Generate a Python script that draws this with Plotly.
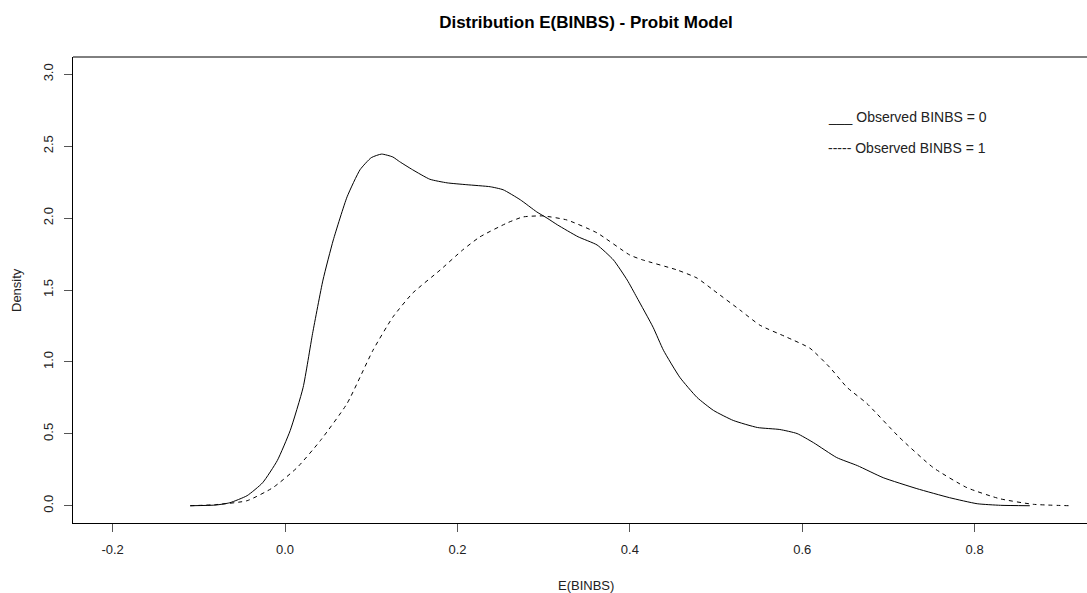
import plotly.graph_objects as go

# Density curves
x_obs0 = [-0.11, -0.08, -0.064, -0.044, -0.026, -0.009, 0.006, 0.021, 0.032, 0.044, 0.056, 0.072,
          0.087, 0.100, 0.112, 0.125, 0.133, 0.148, 0.168, 0.188, 0.211, 0.238, 0.253, 0.273,
          0.292, 0.304, 0.316, 0.340, 0.362, 0.381, 0.397, 0.408, 0.427, 0.439, 0.458, 0.478,
          0.497, 0.520, 0.548, 0.574, 0.594, 0.613, 0.640, 0.664, 0.694, 0.733, 0.771, 0.803,
          0.830, 0.864]
y_obs0 = [0, 0.005, 0.021, 0.07, 0.16, 0.314, 0.523, 0.823, 1.199, 1.569, 1.848, 2.148,
          2.336, 2.42, 2.445, 2.425, 2.392, 2.336, 2.27, 2.245, 2.232, 2.218, 2.197, 2.127,
          2.043, 2.0, 1.953, 1.87, 1.813, 1.709, 1.569, 1.45, 1.241, 1.081, 0.893, 0.753,
          0.663, 0.593, 0.544, 0.530, 0.502, 0.439, 0.335, 0.279, 0.195, 0.119, 0.056, 0.014,
          0.003, 0]

x_obs1 = [-0.11, -0.08, -0.044, -0.014, 0.014, 0.041, 0.072, 0.102, 0.125, 0.148, 0.180, 0.206,
          0.226, 0.258, 0.276, 0.299, 0.327, 0.362, 0.400, 0.415, 0.455, 0.478, 0.497, 0.528,
          0.551, 0.582, 0.609, 0.632, 0.652, 0.675, 0.713, 0.752, 0.791, 0.829, 0.868, 0.911]
y_obs1 = [0, 0.008, 0.035, 0.126, 0.265, 0.453, 0.711, 1.081, 1.311, 1.478, 1.639, 1.778,
          1.869, 1.967, 2.008, 2.015, 1.987, 1.897, 1.743, 1.709, 1.639, 1.583, 1.499, 1.36,
          1.255, 1.172, 1.095, 0.962, 0.823, 0.711, 0.474, 0.265, 0.126, 0.049, 0.01, 0]

x_ticks = [-0.2, 0.0, 0.2, 0.4, 0.6, 0.8]
x_ticklabels = ["-0.2", "0.0", "0.2", "0.4", "0.6", "0.8"]
y_ticks = [0.0, 0.5, 1.0, 1.5, 2.0, 2.5, 3.0]
y_ticklabels = ["0.0", "0.5", "1.0", "1.5", "2.0", "2.5", "3.0"]

legend_labels = ["___ Observed BINBS = 0", "----- Observed BINBS = 1"]

FONT = "Liberation Sans, Arial, sans-serif"
W, H = 1087, 593
L, R, T, B = 73, 0, 57, 70

fig = go.Figure()
fig.add_trace(go.Scatter(x=x_obs0, y=y_obs0, mode="lines", name="Observed BINBS = 0",
                         line=dict(color="black", width=1, shape="spline", smoothing=0.5)))
fig.add_trace(go.Scatter(x=x_obs1, y=y_obs1, mode="lines", name="Observed BINBS = 1",
                         line=dict(color="black", width=1, dash="4px,4px", shape="spline", smoothing=0.5)))

fig.update_layout(
    width=W, height=H, autosize=False,
    margin=dict(l=L, r=R, t=T, b=B),
    paper_bgcolor="white", plot_bgcolor="white",
    showlegend=False,
    font=dict(family=FONT, size=13, color="#222"),
    title=dict(text="<b>Distribution E(BINBS) - Probit Model</b>", x=586 / W, xanchor="center",
               y=1 - 22 / H, yanchor="middle", font=dict(size=17, color="black", family=FONT)),
    xaxis=dict(range=[-0.246, 0.9304], tickvals=x_ticks, ticktext=x_ticklabels,
               showgrid=False, zeroline=False, showline=True, linecolor="black", linewidth=1,
               ticks="outside", ticklen=8, tickcolor="#555", tickwidth=1,
               ticklabelstandoff=6,
               tickfont=dict(size=13, color="#222")),
    yaxis=dict(range=[-0.12, 3.12], tickvals=y_ticks, ticktext=y_ticklabels,
               showgrid=False, zeroline=False, showline=True, linecolor="black", linewidth=1,
               ticks="outside", ticklen=8, tickcolor="#555", tickwidth=1, tickangle=-90,
               ticklabelstandoff=6,
               tickfont=dict(size=13, color="#222")),
)

# top border of the R box
fig.add_shape(type="line", xref="paper", yref="paper", x0=0, x1=1, y0=1, y1=1,
              line=dict(color="black", width=1))

def px_x(p):
    return (p - L) / (W - L - R)

def px_y(p):
    return 1 - (p - T) / (H - T - B)

# axis titles
fig.add_annotation(x=px_x(586), y=px_y(585), xref="paper", yref="paper", text="E(BINBS)",
                   showarrow=False, xanchor="center", yanchor="middle",
                   font=dict(size=13, color="#222", family=FONT))
fig.add_annotation(x=px_x(16), y=px_y(290), xref="paper", yref="paper", text="Density",
                   showarrow=False, xanchor="center", yanchor="middle", textangle=-90,
                   font=dict(size=13, color="#222", family=FONT))

# legend text (R legend without box)
for i, lab in enumerate(legend_labels):
    fig.add_annotation(x=px_x(826), y=px_y(117 + 31 * i),
                       xref="paper", yref="paper", xanchor="left", yanchor="middle",
                       text=lab, showarrow=False, font=dict(size=14, color="#222", family=FONT))

fig.write_html("out.html")
